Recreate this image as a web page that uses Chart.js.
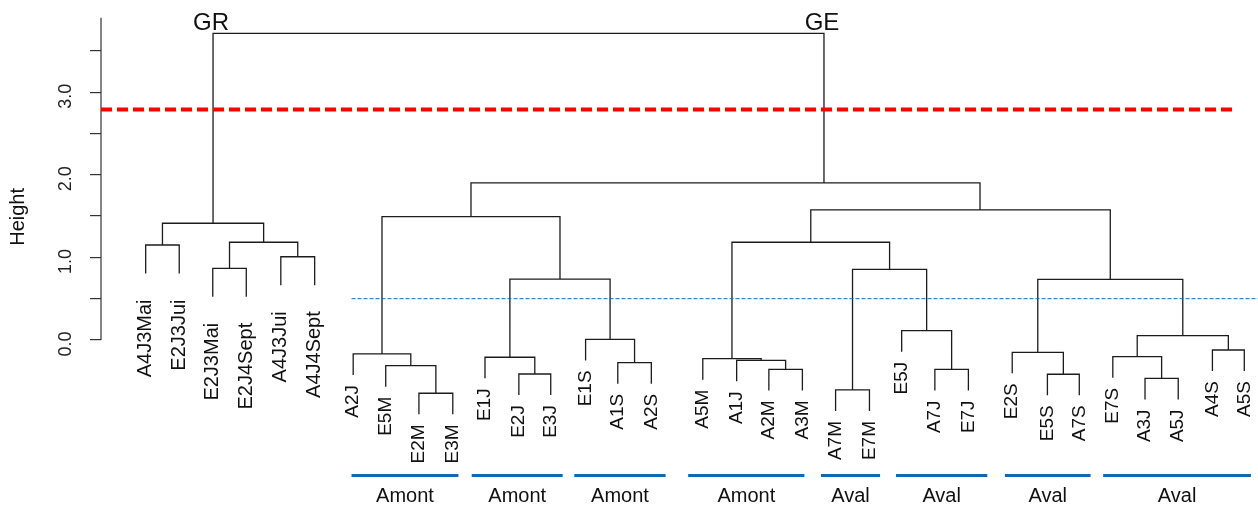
<!DOCTYPE html>
<html>
<head>
<meta charset="utf-8">
<script src="https://cdn.jsdelivr.net/npm/chart.js@4.4.1/dist/chart.umd.min.js"></script>
<style>
  html, body { margin: 0; padding: 0; background: #fff; }
</style>
</head>
<body>
<canvas id="dendrogramme" width="1258" height="508"></canvas>
<script>
// --- feuilles (ordre du dendrogramme) ---
const leafLabels = ['A4J3Mai', 'E2J3Jui', 'E2J3Mai', 'E2J4Sept', 'A4J3Jui', 'A4J4Sept',
    'A2J', 'E5M', 'E2M', 'E3M', 'E1J', 'E2J', 'E3J', 'E1S', 'A1S', 'A2S',
    'A5M', 'A1J', 'A2M', 'A3M', 'A7M', 'E7M', 'E5J', 'A7J', 'E7J',
    'E2S', 'E5S', 'A7S', 'E7S', 'A3J', 'A5J', 'A4S', 'A5S'];
const leafSlot = [0, 1.01, 2.02, 3.03, 4.07, 5.09,
    6.25, 7.23, 8.23, 9.25, 10.22, 11.24, 12.20, 13.25, 14.22, 15.23,
    16.78, 17.80, 18.77, 19.78, 20.78, 21.80, 22.77, 23.77, 24.78,
    26.10, 27.16, 28.12, 29.13, 30.10, 31.10, 32.13, 33.09];
const grLeafCount = 6;

// --- fusions, façon hclust$merge (négatif = feuille, positif = fusion) ---
const mergeA = [-1, -3, -5, 2, 1, -9, -8, -7, -12, -11, -15, -14, 10, 8,
    -19, -18, -17, -21, -24, -23, 18, 17, -27, -26, -30, -29, -32, 26, 24, 22, 14, 5];
const mergeB = [-2, -4, -6, 3, 4, -10, 6, 7, -13, 9, -16, 11, 12, 13,
    -20, 15, 16, -22, -25, 19, 20, 21, -28, 23, -31, 25, -33, 27, 28, 29, 30, 31];
const mergeHeight = [1.150, 0.868, 1.008, 1.183, 1.413, -0.645, -0.311, -0.169, -0.412, -0.209,
    -0.275, 0.008, 0.738, 1.493, -0.355, -0.246, -0.226, -0.605, -0.355, 0.113,
    0.856, 1.183, -0.415, -0.149, -0.464, -0.202, -0.121, 0.052, 0.735, 1.574, 1.901, 3.713];
// points d'attache décalés dans la figure d'origine
const anchorMerge = [30, 31];
const anchorSlot = [25.13, 20.43];
const hangGR = 0.345;
const hangGE = 0.255;

const treeNames = ['GR', 'GE'];
const treeMerge = [5, 31];

// --- lignes de coupure ---
const cutHigh = 2.79;
const cutLow = 0.5;

// --- groupes Amont / Aval ---
const groupNames = ['Amont', 'Amont', 'Amont', 'Amont', 'Aval', 'Aval', 'Aval', 'Aval'];
const groupFrom = [6.20, 9.82, 12.91, 16.34, 20.34, 22.60, 25.88, 28.84];
const groupTo = [9.42, 12.56, 15.66, 19.84, 22.12, 25.35, 28.46, 33.29];
const groupLevel = -1.64;

// --- axe ---
const yTicks = [0, 0.5, 1, 1.5, 2, 2.5, 3, 3.5];
const axisTop = 3.9;
const xMin = -1.346, xMax = 33.503;
const yMin = -2.034, yMax = 4.116;

const FONT = '"Liberation Sans", Arial, sans-serif';

// construction des segments
const nodeX = [];
const leafEnd = [];
const treePts = [];
mergeHeight.forEach((h, m) => {
    const hang = m < 5 ? hangGR : hangGE;
    const pos = (c) => {
        if (c < 0) {
            const i = -c - 1;
            leafEnd[i] = h - hang;
            return { x: leafSlot[i], y: h - hang };
        }
        return { x: nodeX[c - 1], y: mergeHeight[c - 1] };
    };
    const a = pos(mergeA[m]);
    const b = pos(mergeB[m]);
    const k = anchorMerge.indexOf(m + 1);
    nodeX[m] = k >= 0 ? anchorSlot[k] : (a.x + b.x) / 2;
    treePts.push(a, { x: a.x, y: h }, { x: b.x, y: h }, b, { x: b.x, y: null });
});

const groupPts = [];
groupFrom.forEach((g, i) => {
    groupPts.push({ x: g, y: groupLevel }, { x: groupTo[i], y: groupLevel }, { x: groupTo[i], y: null });
});

const textPlugin = {
    id: 'dendroText',
    afterDatasetsDraw(chart) {
        const { ctx, scales: { x, y } } = chart;
        ctx.save();
        ctx.fillStyle = '#111';

        // étiquettes des feuilles
        leafLabels.forEach((lab, i) => {
            const gr = i < grLeafCount;
            ctx.save();
            ctx.translate(x.getPixelForValue(leafSlot[i]), y.getPixelForValue(leafEnd[i]) + (gr ? 26 : 10));
            ctx.rotate(-Math.PI / 2);
            ctx.font = (gr ? 20 : 19) + 'px ' + FONT;
            ctx.textAlign = 'right';
            ctx.textBaseline = 'middle';
            ctx.fillText(lab, 0, 0);
            ctx.restore();
        });

        // Amont / Aval
        ctx.font = '20px ' + FONT;
        ctx.textAlign = 'center';
        ctx.textBaseline = 'middle';
        groupNames.forEach((g, i) => {
            ctx.fillText(g, x.getPixelForValue((groupFrom[i] + groupTo[i]) / 2), 496);
        });

        // GR / GE
        ctx.font = '24px ' + FONT;
        ctx.textBaseline = 'alphabetic';
        treeNames.forEach((t, i) => {
            ctx.fillText(t, x.getPixelForValue(nodeX[treeMerge[i] - 1]) - 2, y.getPixelForValue(mergeHeight[mergeHeight.length - 1]) - 3);
        });

        // titre de l'axe
        ctx.save();
        ctx.translate(18, y.getPixelForValue(1.49));
        ctx.rotate(-Math.PI / 2);
        ctx.font = '20px ' + FONT;
        ctx.textBaseline = 'middle';
        ctx.fillText('Height', 0, 0);
        ctx.restore();

        ctx.restore();
    }
};

new Chart(document.getElementById('dendrogramme'), {
    type: 'scatter',
    data: {
        datasets: [
            {
                data: [{ x: xMin, y: cutHigh }, { x: 32.81, y: cutHigh }],
                showLine: true, borderColor: '#ff0000', borderWidth: 4, borderDash: [11, 5],
                pointRadius: 0
            },
            {
                data: [{ x: 6.2, y: cutLow }, { x: xMax, y: cutLow }],
                showLine: true, borderColor: '#0a6fc9', borderWidth: 1, borderDash: [4, 2],
                pointRadius: 0
            },
            {
                data: treePts,
                showLine: true, spanGaps: false, borderColor: '#1c1c1c', borderWidth: 1.3,
                pointRadius: 0
            },
            {
                data: groupPts,
                showLine: true, spanGaps: false, borderColor: '#0e6ab8', borderWidth: 3,
                pointRadius: 0
            },
            {
                data: [{ x: xMin, y: 0 }, { x: xMin, y: axisTop }],
                showLine: true, borderColor: '#333', borderWidth: 1.2, pointRadius: 0, clip: false
            }
        ]
    },
    options: {
        responsive: false,
        animation: false,
        devicePixelRatio: 1,
        layout: { padding: 0 },
        plugins: { legend: { display: false }, tooltip: { enabled: false } },
        scales: {
            x: { type: 'linear', min: xMin, max: xMax, display: false },
            y: {
                type: 'linear', position: 'left', min: yMin, max: yMax,
                afterBuildTicks: (s) => { s.ticks = yTicks.map(v => ({ value: v })); },
                afterFit: (s) => { s.width = 101; s.paddingTop = 0; s.paddingBottom = 0; },
                grid: { display: true, drawOnChartArea: false, drawTicks: true, tickLength: 11, color: '#333', lineWidth: 1.2 },
                border: { display: false },
                ticks: {
                    autoSkip: false, minRotation: 90, maxRotation: 90, crossAlign: 'center', padding: 11,
                    labelOffset: 4, color: '#222', font: { size: 18, family: FONT },
                    callback: (v) => Number.isInteger(v) ? v.toFixed(1) : ''
                }
            }
        }
    },
    plugins: [textPlugin]
});
</script>
</body>
</html>
